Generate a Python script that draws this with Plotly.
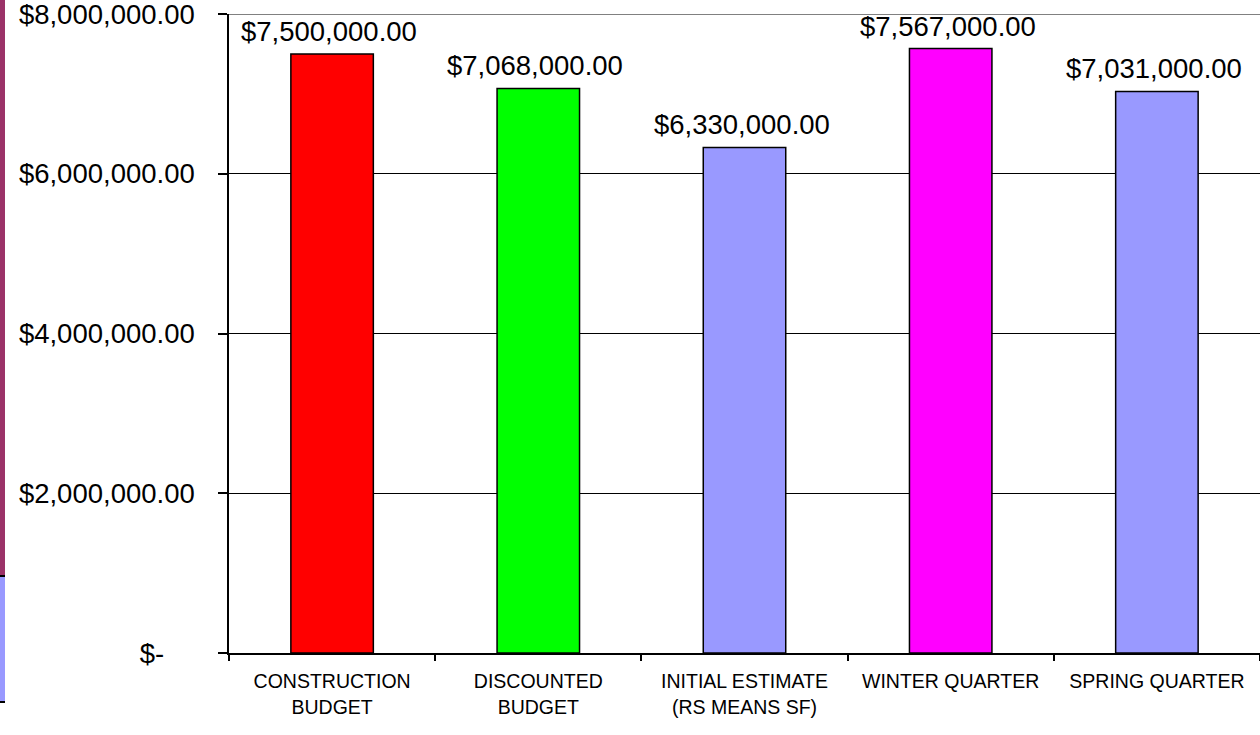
import plotly.graph_objects as go

categories = ["CONSTRUCTION<br>BUDGET", "DISCOUNTED<br>BUDGET", "INITIAL ESTIMATE<br>(RS MEANS SF)",
              "WINTER QUARTER", "SPRING QUARTER"]
values = [7500000, 7068000, 6330000, 7567000, 7031000]
colors = ["#FF0000", "#00FF00", "#9999FF", "#FF00FF", "#9999FF"]
labels = ["${:,.2f}".format(v) for v in values]
tick_vals = [0, 2000000, 4000000, 6000000, 8000000]
tick_text = ["$-" + "\u00a0" * 4, "$2,000,000.00", "$4,000,000.00", "$6,000,000.00", "$8,000,000.00"]

FONT = "Arial, Liberation Sans"

fig = go.Figure()
fig.add_trace(go.Bar(
    x=categories, y=values,
    marker=dict(color=colors, line=dict(color="black", width=1.5)),
    width=0.4,
    hoverinfo="x+y",
))

for c, v, t in zip(categories, values, labels):
    fig.add_annotation(x=c, y=v, text=t, showarrow=False, yanchor="bottom", yshift=5, xshift=-3,
                       font=dict(family=FONT, size=27.5, color="black"))

L = 229
W = 1260 - L


def px(x):
    return (x - L) / W


def py(y):
    return (653 - y) / 639


shapes = [
    dict(type="line", xref="paper", yref="y", x0=0, x1=1, y0=8000000, y1=8000000,
         line=dict(color="#808080", width=2)),
    dict(type="rect", xref="paper", yref="paper", x0=px(0), x1=px(5), y0=py(576), y1=py(-10),
         fillcolor="#9B3268", line=dict(width=0)),
    dict(type="rect", xref="paper", yref="paper", x0=px(0), x1=px(5), y0=py(702), y1=py(577),
         fillcolor="#9999FF", line=dict(width=0)),
    dict(type="line", xref="paper", yref="paper", x0=px(0), x1=px(5), y0=py(576), y1=py(576),
         line=dict(color="black", width=2)),
    dict(type="line", xref="paper", yref="paper", x0=px(0), x1=px(5), y0=py(702), y1=py(702),
         line=dict(color="black", width=2)),
]

fig.update_layout(
    width=1260, height=735,
    margin=dict(l=L, r=0, t=14, b=82),
    paper_bgcolor="white", plot_bgcolor="white",
    showlegend=False,
    font=dict(family=FONT, color="black"),
    shapes=shapes,
    xaxis=dict(
        showline=True, linecolor="black", linewidth=1.5,
        ticks="outside", tickson="boundaries", ticklen=6, tickcolor="black", tickwidth=1.5,
        tickfont=dict(family=FONT, size=19.5, color="black"),
        showgrid=False,
        ticklabelstandoff=10,
    ),
    yaxis=dict(
        range=[0, 8000000],
        tickvals=tick_vals, ticktext=tick_text,
        showline=True, linecolor="black", linewidth=1.5,
        ticks="outside", ticklen=9, tickcolor="black", tickwidth=1.5,
        showgrid=True, gridcolor="black", gridwidth=1.2,
        tickfont=dict(family=FONT, size=27.5, color="black"),
        zeroline=False,
        ticklabelstandoff=18,
        ticklabeloverflow="allow",
    ),
)

fig.write_html("out.html", config={"displayModeBar": False},
               post_script="document.body.style.margin='0';document.body.style.overflow='hidden';")
